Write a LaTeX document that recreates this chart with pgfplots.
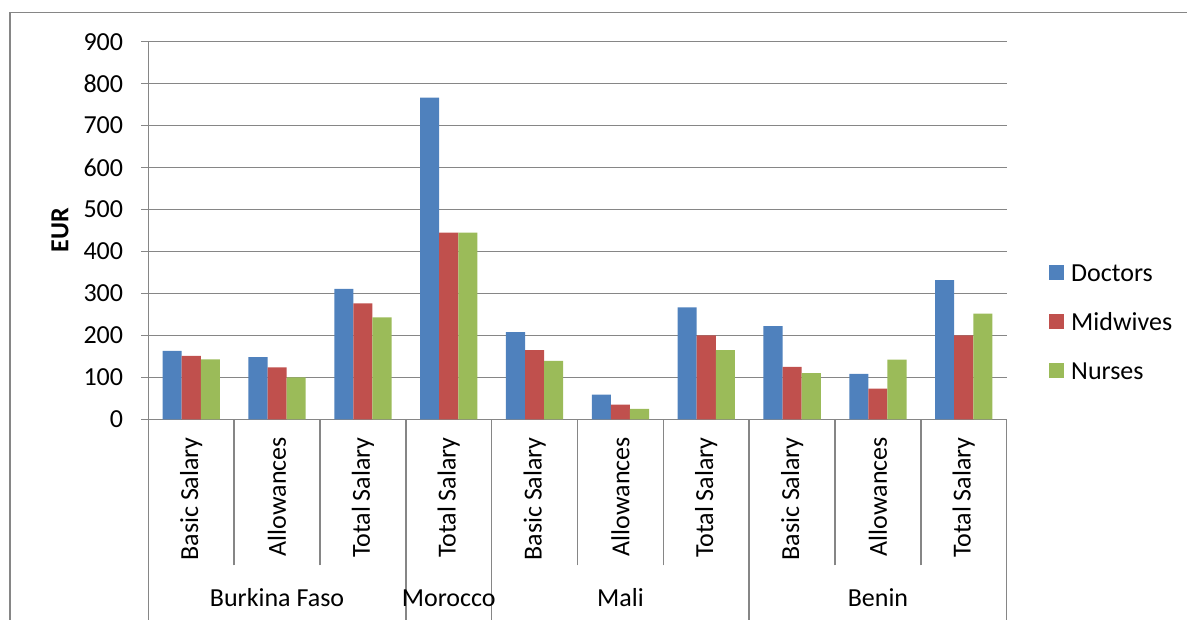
\documentclass[border=0pt]{standalone}
\usepackage{pgfplots}
\pgfplotsset{compat=1.18}
\usepackage{fontspec}
\setmainfont{Carlito}
\definecolor{docblue}{HTML}{4F81BD}
\definecolor{midred}{HTML}{C0504D}
\definecolor{nursegreen}{HTML}{9BBB59}
\definecolor{axisgray}{HTML}{868686}

\begin{document}
\begin{tikzpicture}[x=1pt,y=1pt]
\useasboundingbox (0,0) rectangle (1187,620);
% chart frame
\draw[axisgray, line width=1.5pt] (10,0) -- (10,607.3) -- (1187,607.3);
\begin{axis}[
  at={(148.3pt,200.7pt)}, anchor=south west,
  scale only axis, width=858.4pt, height=377.6pt,
  font=\fontsize{26}{31}\selectfont,
  /pgf/number format/assume math mode=true,
  clip=false,
  ybar=0pt, bar width=19.1pt,
  xmin=-0.5, xmax=9.5, ymin=0, ymax=900,
  ytick={0,100,...,900},
  xtick={0,...,9},
  xticklabels={Basic Salary, Allowances, Total Salary, Total Salary, Basic Salary,
               Allowances, Total Salary, Basic Salary, Allowances, Total Salary},
  axis x line*=bottom, axis y line*=left,
  axis line style={axisgray, line width=1.5pt},
  ymajorgrids, grid style={axisgray, line width=1.5pt},
  tick align=outside, major tick length=7pt,
  tick style={axisgray, line width=1.5pt},
  major x tick style={draw=none},
  minor xtick={0.5,1.5,4.5,5.5,7.5,8.5},
  minor tick length=146pt,
  minor x tick style={draw=axisgray, line width=1.5pt},
  extra x ticks={-0.5,2.5,3.5,6.5,9.5},
  extra x tick labels={},
  extra x tick style={major tick length=205pt,
    major x tick style={draw=axisgray, line width=1.5pt}, grid=none},
  xticklabel style={rotate=90, anchor=east, inner sep=0pt},
  xticklabel shift=10.7pt,
  yticklabel style={inner sep=0pt},
  yticklabel shift=18pt,
  ylabel={\bfseries EUR},
  ylabel style={at={(axis description cs:-0.1029,0.5)}, anchor=center},
  legend style={at={(axis description cs:1.0493,0.260)}, anchor=west,
    draw=none, fill=none, inner sep=0pt, row sep=31pt,
    nodes={inner sep=0pt, text height=18pt, text depth=0pt},
    /tikz/every odd column/.append style={column sep=7pt}},
  legend cell align=left,
  legend image code/.code={\fill[#1] (0pt,-7.5pt) rectangle (15pt,7.5pt);},
]
\addplot[fill=docblue, draw=none] coordinates
  {(0,163) (1,148) (2,311) (3,767) (4,208) (5,59) (6,267) (7,222) (8,108) (9,332)};
\addplot[fill=midred, draw=none] coordinates
  {(0,151) (1,124) (2,276) (3,445) (4,165) (5,35) (6,200) (7,125) (8,73) (9,200)};
\addplot[fill=nursegreen, draw=none] coordinates
  {(0,143) (1,100) (2,243) (3,445) (4,139) (5,25) (6,165) (7,110) (8,142) (9,252)};
\legend{Doctors, Midwives, Nurses}
% country groups
\node[anchor=base, yshift=-187.7pt] at (axis cs:1,0) {Burkina Faso};
\node[anchor=base, yshift=-187.7pt] at (axis cs:3,0) {Morocco};
\node[anchor=base, yshift=-187.7pt] at (axis cs:5,0) {Mali};
\node[anchor=base, yshift=-187.7pt] at (axis cs:8,0) {Benin};
\end{axis}
\end{tikzpicture}
\end{document}
